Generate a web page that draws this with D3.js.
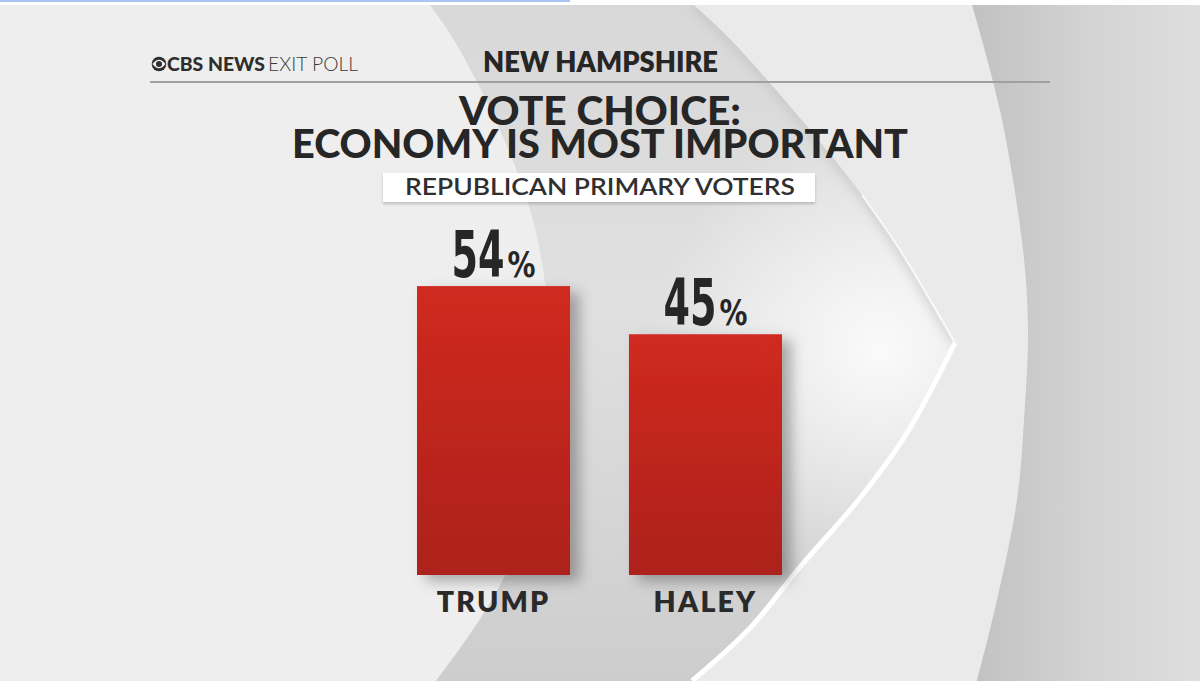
<!DOCTYPE html>
<html>
<head>
<meta charset="utf-8">
<script src="https://cdn.jsdelivr.net/npm/d3@7"></script>
<style>
  html, body { margin: 0; padding: 0; background: #ffffff; }
  svg { display: block; }
</style>
</head>
<body>
<div id="chart"></div>
<script>
// ---------- data ----------
const categories = ["TRUMP", "HALEY"];
const values = [54, 45];
const valueLabels = ["54", "45"];
const brandBold = "CBS NEWS";
const brandLight = "EXIT POLL";
const stateName = "NEW HAMPSHIRE";
const titleLines = ["VOTE CHOICE:", "ECONOMY IS MOST IMPORTANT"];
const subtitle = "REPUBLICAN PRIMARY VOTERS";

// ---------- setup ----------
const W = 1200, H = 682;
const svg = d3.select("#chart").append("svg").attr("width", W).attr("height", H);
const defs = svg.append("defs");

const FONT = "Lato, 'Open Sans', sans-serif";
const COND = "'DejaVu Sans Condensed', 'Liberation Sans Narrow', 'DejaVu Sans', sans-serif";

// gradients
const g1 = defs.append("linearGradient").attr("id", "cres").attr("gradientUnits", "userSpaceOnUse")
  .attr("x1", 0).attr("y1", 5).attr("x2", 0).attr("y2", 681);
g1.append("stop").attr("offset", "0").attr("stop-color", "#d8d8d8");
g1.append("stop").attr("offset", "0.45").attr("stop-color", "#e0e0e0");
g1.append("stop").attr("offset", "1").attr("stop-color", "#cdcdcd");

const g2 = defs.append("radialGradient").attr("id", "tipglow").attr("gradientUnits", "userSpaceOnUse")
  .attr("cx", 880).attr("cy", 350).attr("r", 230);
g2.append("stop").attr("offset", "0").attr("stop-color", "#ffffff").attr("stop-opacity", 0.85);
g2.append("stop").attr("offset", "1").attr("stop-color", "#ffffff").attr("stop-opacity", 0);

const g3 = defs.append("linearGradient").attr("id", "rightg").attr("gradientUnits", "userSpaceOnUse")
  .attr("x1", 975).attr("y1", 0).attr("x2", 1200).attr("y2", 0);
g3.append("stop").attr("offset", "0").attr("stop-color", "#c2c2c2");
g3.append("stop").attr("offset", "0.5").attr("stop-color", "#d3d3d3");
g3.append("stop").attr("offset", "1").attr("stop-color", "#dedede");

const g4 = defs.append("linearGradient").attr("id", "barg").attr("x1", 0).attr("y1", 0).attr("x2", 0).attr("y2", 1);
g4.append("stop").attr("offset", "0").attr("stop-color", "#d02a20");
g4.append("stop").attr("offset", "1").attr("stop-color", "#ad201b");

const f1 = defs.append("filter").attr("id", "shadow").attr("x", "-20%").attr("y", "-20%").attr("width", "150%").attr("height", "150%");
f1.append("feDropShadow").attr("dx", 9).attr("dy", 6).attr("stdDeviation", 7)
  .attr("flood-color", "#000").attr("flood-opacity", 0.3);
const f2 = defs.append("filter").attr("id", "boxshadow").attr("x", "-10%").attr("y", "-30%").attr("width", "120%").attr("height", "180%");
f2.append("feDropShadow").attr("dx", 0).attr("dy", 2).attr("stdDeviation", 1.5)
  .attr("flood-color", "#000").attr("flood-opacity", 0.2);
defs.append("filter").attr("id", "blur3").append("feGaussianBlur").attr("stdDeviation", 4);

// ---------- background ----------
const curveA = [[430,5],[454,40],[500,130],[533,220],[547,300],[552,400],[538,500],[490,603],[436,681]];
const upperArm = [[694,5],[731,40],[810,130],[862,195],[900,250],[955,343]];
const lowerArm = [[955,343],[907,433],[860,498],[800,567],[750,628],[692,681]];
const arcB = [[972,5],[1000,110],[1023,250],[1028,330],[1024,420],[1017,500],[997,600],[977,681]];

const smooth = d3.line().curve(d3.curveCatmullRom.alpha(0.5));
const join = (...parts) => parts.map((p, i) => i === 0 ? smooth(p) : smooth(p).replace(/^M/, "L")).join("");
const rev = a => a.slice().reverse();

const bg = svg.append("g");
bg.append("rect").attr("x", 0).attr("y", 5).attr("width", W).attr("height", 676).attr("fill", "#eeeeee");
bg.append("path").attr("d", join(upperArm, lowerArm) + `L1200,681L1200,5Z`).attr("fill", "#eaeaea");
const cresD = join(curveA, rev(lowerArm), rev(upperArm)) + "Z";
bg.append("path").attr("d", cresD).attr("fill", "url(#cres)");
bg.append("path").attr("d", cresD).attr("fill", "url(#tipglow)");
defs.append("clipPath").attr("id", "cresclip").append("path").attr("d", cresD);
bg.append("path").attr("d", smooth(upperArm)).attr("fill", "none").attr("stroke", "#bdbdbd")
  .attr("stroke-width", 10).attr("opacity", 0.5).attr("filter", "url(#blur3)").attr("clip-path", "url(#cresclip)");
bg.append("path").attr("d", smooth(arcB) + "L1200,681L1200,5Z").attr("fill", "url(#rightg)");
bg.append("path").attr("d", smooth(lowerArm)).attr("fill", "none").attr("stroke", "#ffffff").attr("stroke-width", 5);
bg.append("path").attr("d", smooth(upperArm.slice(3))).attr("fill", "none").attr("stroke", "#ffffff").attr("stroke-width", 2).attr("opacity", 0.8);

// top browser strip
svg.append("rect").attr("x", 0).attr("y", 0).attr("width", W).attr("height", 5).attr("fill", "#ffffff");
svg.append("rect").attr("x", 0).attr("y", 0).attr("width", 570).attr("height", 2).attr("fill", "#a9c6f2");

// ---------- header ----------
const hdr = svg.append("g");
const ex = 159, ey = 64;
hdr.append("circle").attr("cx", ex).attr("cy", ey).attr("r", 7.3).attr("fill", "#2e2e2e");
hdr.append("path").attr("d", `M${ex-6.6},${ey} Q${ex},${ey-8.5} ${ex+6.6},${ey} Q${ex},${ey+8.5} ${ex-6.6},${ey}Z`).attr("fill", "#eeeeee");
hdr.append("circle").attr("cx", ex).attr("cy", ey).attr("r", 3).attr("fill", "#2e2e2e");
hdr.append("text").attr("x", 167).attr("y", 71).text(brandBold)
  .attr("font-family", FONT).attr("font-weight", 900).attr("font-size", 19).attr("fill", "#2e2e2e")
  .attr("textLength", 98).attr("lengthAdjust", "spacingAndGlyphs");
hdr.append("text").attr("x", 268).attr("y", 71).text(brandLight)
  .attr("font-family", FONT).attr("font-weight", 300).attr("font-size", 19).attr("fill", "#3a3a3a")
  .attr("textLength", 90).attr("lengthAdjust", "spacingAndGlyphs");
hdr.append("text").attr("x", 483).attr("y", 72).text(stateName)
  .attr("font-family", FONT).attr("font-weight", 800).attr("font-size", 28).attr("fill", "#262626")
  .attr("textLength", 235).attr("lengthAdjust", "spacingAndGlyphs");
hdr.append("rect").attr("x", 150).attr("y", 81).attr("width", 900).attr("height", 2).attr("fill", "#a0a0a0");

// title (one text element, two lines)
const title = hdr.append("text").attr("font-family", FONT).attr("font-weight", 900)
  .attr("font-size", 39).attr("fill", "#262626");
title.append("tspan").attr("x", 459).attr("y", 125).text(titleLines[0])
  .attr("textLength", 282).attr("lengthAdjust", "spacingAndGlyphs");
title.append("tspan").attr("x", 292).attr("y", 158).text(titleLines[1])
  .attr("textLength", 616).attr("lengthAdjust", "spacingAndGlyphs");

// subtitle box
hdr.append("rect").attr("x", 383).attr("y", 173).attr("width", 432).attr("height", 29)
  .attr("fill", "#ffffff").attr("filter", "url(#boxshadow)");
hdr.append("text").attr("x", 405).attr("y", 195).text(subtitle)
  .attr("font-family", FONT).attr("font-weight", 600).attr("font-size", 23).attr("fill", "#303030")
  .attr("textLength", 390).attr("lengthAdjust", "spacingAndGlyphs");

// ---------- bars ----------
const x = d3.scaleBand().domain(categories).range([417, 782]).paddingInner(0.278).paddingOuter(0);
const y = d3.scaleLinear().domain([0, 100]).range([575, 40]);
const data = categories.map((c, i) => ({ cat: c, val: values[i], lab: valueLabels[i] }));

const bars = svg.append("g");
bars.selectAll("rect.bar").data(data).join("rect").attr("class", "bar")
  .attr("x", d => x(d.cat)).attr("y", d => y(d.val))
  .attr("width", x.bandwidth()).attr("height", d => y(0) - y(d.val))
  .attr("fill", "url(#barg)").attr("filter", "url(#shadow)");

// value labels: condensed by horizontal scaling so boxes stay tight
function fitText(sel, targetW, dx) {
  sel.each(function (d) {
    const w = this.getComputedTextLength() || targetW;
    const cx = x(d.cat) + x.bandwidth() / 2;
    d3.select(this).attr("transform",
      `translate(${cx + dx},${y(d.val) - 9}) scale(${targetW / w},1)`);
  });
}
const num = bars.selectAll("text.vnum").data(data).join("text").attr("class", "vnum")
  .attr("font-family", COND).attr("font-weight", 700).attr("font-size", 64).attr("fill", "#262626")
  .text(d => d.lab);
fitText(num, 53, -42);
const pct = bars.selectAll("text.vpct").data(data).join("text").attr("class", "vpct")
  .attr("font-family", COND).attr("font-weight", 700).attr("font-size", 36).attr("fill", "#262626")
  .text("%");
fitText(pct, 28, 14);

// category labels
bars.selectAll("text.cat").data(data).join("text").attr("class", "cat")
  .attr("x", d => x(d.cat) + x.bandwidth() / 2).attr("y", 612)
  .attr("text-anchor", "middle").text(d => d.cat)
  .attr("font-family", FONT).attr("font-weight", 800).attr("font-size", 28.5).attr("fill", "#2a2a2a")
  .attr("letter-spacing", 2.2);

svg.append("rect").attr("x", 0).attr("y", 681).attr("width", W).attr("height", 1).attr("fill", "#ffffff");
</script>
</body>
</html>
